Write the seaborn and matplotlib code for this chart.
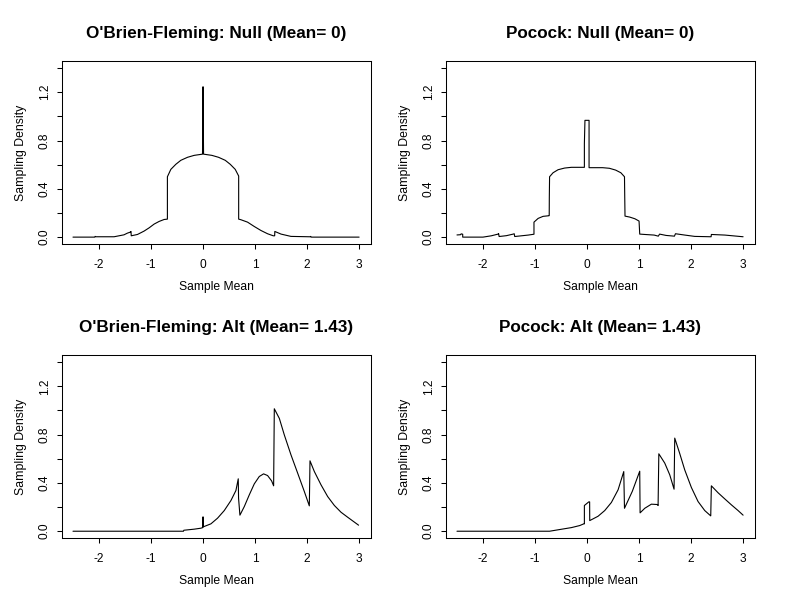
import matplotlib
matplotlib.use("Agg")
import matplotlib.pyplot as plt
import seaborn as sns

# values
titles = ["O'Brien-Fleming: Null (Mean= 0)", "Pocock: Null (Mean= 0)",
          "O'Brien-Fleming: Alt (Mean= 1.43)", "Pocock: Alt (Mean= 1.43)"]

x_ticks = [-2, -1, 0, 1, 2, 3]
x_tick_labels = ["-2", "-1", "0", "1", "2", "3"]
y_ticks = [0.0, 0.2, 0.4, 0.6, 0.8, 1.0, 1.2, 1.4]
y_tick_labels = ["0.0", "", "0.4", "", "0.8", "", "1.2", ""]

obf_null_x = [-2.5, -2.08, -2.075, -2.06, -1.9, -1.71, -1.615, -1.52, -1.454, -1.40,
              -1.385, -1.38, -1.26, -1.133, -1.036, -0.94, -0.844, -0.748, -0.685, -0.685,
              -0.619, -0.523, -0.427, -0.298, -0.17, -0.042, -0.01, -0.005, 0.0, 0.005,
              0.01, 0.042, 0.17, 0.298, 0.427, 0.523, 0.619, 0.685, 0.685, 0.728,
              0.856, 0.985, 1.113, 1.24, 1.35, 1.377, 1.38, 1.5, 1.69, 2.04,
              2.065, 2.07, 2.08, 3.0]
obf_null_y = [0.0, 0.0, 0.006, 0.003, 0.003, 0.003, 0.011, 0.019, 0.033, 0.041,
              0.047, 0.011, 0.022, 0.05, 0.077, 0.108, 0.13, 0.146, 0.149, 0.50,
              0.561, 0.603, 0.636, 0.661, 0.677, 0.685, 0.687, 0.96, 1.245, 0.96,
              0.687, 0.685, 0.677, 0.661, 0.636, 0.603, 0.561, 0.506, 0.149, 0.144,
              0.124, 0.088, 0.055, 0.028, 0.011, 0.011, 0.047, 0.025, 0.006, 0.003,
              0.003, 0.006, 0.0, 0.0]

poc_null_x = [-2.5, -2.43, -2.42, -2.39, -2.39, -2.0, -1.84, -1.71, -1.70, -1.69,
              -1.55, -1.42, -1.40, -1.39, -1.26, -1.13, -1.02, -1.02, -0.94, -0.845,
              -0.736, -0.727, -0.725, -0.72, -0.653, -0.557, -0.43, -0.30, -0.051, -0.051,
              -0.04, 0.039, 0.039, 0.30, 0.43, 0.55, 0.65, 0.72, 0.725, 0.73,
              0.82, 0.92, 1.0, 1.013, 1.11, 1.29, 1.37, 1.395, 1.52, 1.68,
              1.70, 1.88, 2.07, 2.385, 2.39, 2.65, 3.0]
poc_null_y = [0.018, 0.02, 0.027, 0.024, 0.0, 0.0, 0.011, 0.025, 0.03, 0.005,
              0.012, 0.025, 0.028, 0.005, 0.011, 0.017, 0.024, 0.124, 0.155, 0.172,
              0.177, 0.178, 0.33, 0.50, 0.533, 0.558, 0.572, 0.578, 0.578, 0.774,
              0.967, 0.967, 0.575, 0.575, 0.57, 0.555, 0.533, 0.50, 0.33, 0.174,
              0.166, 0.152, 0.133, 0.025, 0.022, 0.017, 0.008, 0.025, 0.014, 0.008,
              0.028, 0.017, 0.006, 0.003, 0.022, 0.017, 0.003]

obf_alt_x = [-2.5, -0.376, -0.37, -0.17, -0.042, -0.005, 0.0, 0.003, 0.151, 0.279,
             0.408, 0.536, 0.632, 0.677, 0.683, 0.709, 0.793, 0.889, 0.985, 1.081,
             1.164, 1.241, 1.318, 1.357, 1.37, 1.467, 1.562, 1.69, 1.819, 1.947,
             2.043, 2.05, 2.056, 2.14, 2.268, 2.396, 2.525, 2.653, 2.78, 2.99]
obf_alt_y = [0.0, 0.0, 0.008, 0.017, 0.025, 0.03, 0.119, 0.036, 0.061, 0.108,
             0.171, 0.254, 0.337, 0.434, 0.273, 0.133, 0.204, 0.301, 0.392, 0.453,
             0.475, 0.461, 0.417, 0.376, 1.014, 0.934, 0.798, 0.633, 0.481, 0.329,
             0.21, 0.40, 0.583, 0.494, 0.384, 0.287, 0.213, 0.157, 0.116, 0.05]

poc_alt_x = [-2.5, -0.72, -0.525, -0.30, -0.14, -0.063, -0.051, -0.051, 0.034, 0.05,
             0.052, 0.212, 0.34, 0.468, 0.597, 0.706, 0.72, 0.87, 1.013, 1.02,
             1.11, 1.237, 1.353, 1.366, 1.38, 1.494, 1.59, 1.673, 1.686, 1.78,
             1.878, 2.006, 2.134, 2.263, 2.378, 2.39, 2.52, 2.647, 2.776, 2.904, 3.0]
poc_alt_y = [0.0, 0.0, 0.014, 0.03, 0.047, 0.061, 0.061, 0.213, 0.243, 0.243,
             0.088, 0.124, 0.171, 0.238, 0.343, 0.494, 0.19, 0.33, 0.497, 0.152,
             0.19, 0.224, 0.221, 0.213, 0.641, 0.564, 0.467, 0.348, 0.771, 0.646,
             0.508, 0.362, 0.246, 0.171, 0.127, 0.376, 0.318, 0.268, 0.218, 0.171, 0.133]


def draw_panel(ax, xs, ys, title):
    sns.lineplot(x=xs, y=ys, sort=False, estimator=None, color='black',
                 linewidth=0.8, ax=ax)
    ax.set_xlim(-2.72, 3.22)
    ax.set_ylim(-0.056, 1.456)
    ax.set_xticks(x_ticks)
    ax.set_xticklabels(x_tick_labels)
    ax.set_yticks(y_ticks)
    ax.set_yticklabels(y_tick_labels, rotation=90, va='center')
    ax.tick_params(axis='both', length=3.6, width=0.75, labelsize=8.6)
    ax.tick_params(axis='x', pad=7)
    ax.tick_params(axis='y', pad=4)
    ax.set_title(title, fontsize=12.3, fontweight='bold', pad=17)
    ax.set_xlabel('Sample Mean', fontsize=8.7, va='center')
    ax.set_ylabel('Sampling Density', fontsize=8.8, va='center')
    ax.xaxis.set_label_coords(0.5, -43.3 / 182.6)
    ax.yaxis.set_label_coords(-40.6 / 309.0, 0.5)
    for sp in ax.spines.values():
        sp.set_linewidth(0.75)
        sp.set_color('black')


def main():
    sns.set_style('ticks', {'axes.edgecolor': 'black', 'xtick.color': 'black',
                            'ytick.color': 'black', 'text.color': 'black',
                            'axes.labelcolor': 'black'})
    plt.rcParams['font.family'] = ['Liberation Sans', 'DejaVu Sans']
    plt.rcParams['axes.unicode_minus'] = False

    fig, axs = plt.subplots(2, 2, figsize=(7.92, 6.11), dpi=100)
    fig.subplots_adjust(left=0.0777, right=0.9527, bottom=0.1195, top=0.8997,
                        wspace=0.2427, hspace=0.6106)

    draw_panel(axs[0, 0], obf_null_x, obf_null_y, titles[0])
    draw_panel(axs[0, 1], poc_null_x, poc_null_y, titles[1])
    draw_panel(axs[1, 0], obf_alt_x, obf_alt_y, titles[2])
    draw_panel(axs[1, 1], poc_alt_x, poc_alt_y, titles[3])

    plt.savefig('out.png', dpi=100)


if __name__ == '__main__':
    main()
